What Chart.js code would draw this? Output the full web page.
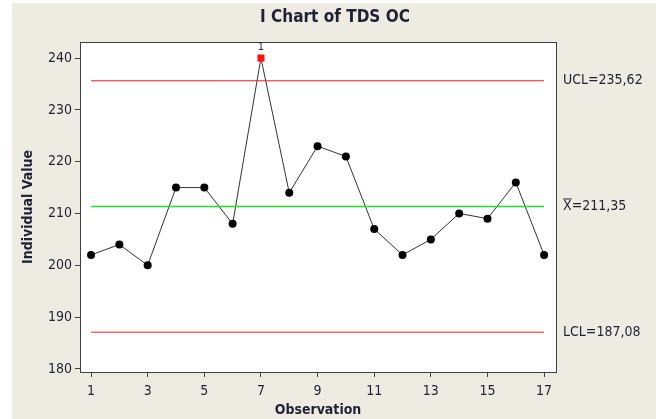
<!DOCTYPE html>
<html>
<head>
<meta charset="utf-8">
<script src="https://cdn.jsdelivr.net/npm/chart.js@4.4.0/dist/chart.umd.min.js"></script>
<style>
  html, body { margin: 0; padding: 0; background: #ffffff; }
  canvas { display: block; }
</style>
</head>
<body>
<canvas id="iChart" width="656" height="419"></canvas>
<script>
// data
const observations = [1, 2, 3, 4, 5, 6, 7, 8, 9, 10, 11, 12, 13, 14, 15, 16, 17];
const tdsValues = [202, 204, 200, 215, 215, 208, 240, 214, 223, 221, 207, 202, 205, 210, 209, 216, 202];
const outOfControl = [7];           // observations flagged with test 1
const ucl = 235.62;
const centerLine = 211.35;
const lcl = 187.08;
const xTicks = [1, 3, 5, 7, 9, 11, 13, 15, 17];
const yTicks = [180, 190, 200, 210, 220, 230, 240];

const FONT = "'DejaVu Sans Condensed', 'DejaVu Sans', sans-serif";
const TEXT = '#1f2235';

function fmt(v) {
    return v.toFixed(2).replace('.', ',');
}

const pts = observations.map((x, i) => ({ x: x, y: tdsValues[i] }));
const flagged = observations.map(x => outOfControl.includes(x));

function limitLine(v) {
    return [{ x: observations[0], y: v }, { x: observations[observations.length - 1], y: v }];
}

// beige panel, frame, right hand limit labels and the "1" flag
const decor = {
    id: 'decor',
    beforeDraw(chart) {
        const c = chart.ctx;
        c.save();
        c.fillStyle = '#eeebe2';
        c.fillRect(12, 3, chart.width - 12, chart.height - 3);
        const a = chart.chartArea;
        c.fillStyle = '#ffffff';
        c.fillRect(a.left, a.top, a.right - a.left, a.bottom - a.top);
        c.restore();
    },
    afterDraw(chart) {
        const c = chart.ctx;
        const a = chart.chartArea;
        const xs = chart.scales.x, ys = chart.scales.y;
        c.save();
        c.strokeStyle = '#404040';
        c.lineWidth = 1;
        c.strokeRect(a.left + 0.5, a.top + 0.5, a.right - a.left, a.bottom - a.top);

        // title
        c.fillStyle = TEXT;
        c.font = "bold 17px " + FONT;
        c.textAlign = 'center';
        c.textBaseline = 'middle';
        c.fillText('I Chart of TDS OC', 335, 18);

        // limit labels
        c.font = "14px " + FONT;
        c.textAlign = 'left';
        const lx = a.right + 7;
        c.fillText('UCL=' + fmt(ucl), lx, ys.getPixelForValue(ucl));
        c.fillText('LCL=' + fmt(lcl), lx, ys.getPixelForValue(lcl));
        const cy = ys.getPixelForValue(centerLine);
        c.fillText('X', lx, cy);
        const w = c.measureText('X').width;
        c.fillText('=' + fmt(centerLine), lx + w, cy);
        c.beginPath();
        c.strokeStyle = TEXT;
        c.moveTo(lx, cy - 7.5);
        c.lineTo(lx + w, cy - 7.5);
        c.stroke();

        // test number above flagged points
        c.font = "11px " + FONT;
        c.textAlign = 'center';
        c.textBaseline = 'bottom';
        outOfControl.forEach(o => {
            const v = tdsValues[observations.indexOf(o)];
            c.fillText('1', xs.getPixelForValue(o), ys.getPixelForValue(v) - 5);
        });
        c.restore();
    }
};

new Chart(document.getElementById('iChart'), {
    type: 'scatter',
    data: {
        datasets: [{
            label: 'UCL',
            data: limitLine(ucl),
            showLine: true,
            borderColor: '#ff1a1a',
            borderWidth: 1,
            pointRadius: 0
        }, {
            label: 'Mean',
            data: limitLine(centerLine),
            showLine: true,
            borderColor: '#22e022',
            borderWidth: 1.3,
            pointRadius: 0
        }, {
            label: 'LCL',
            data: limitLine(lcl),
            showLine: true,
            borderColor: '#ff1a1a',
            borderWidth: 1,
            pointRadius: 0
        }, {
            label: 'TDS OC',
            data: pts,
            showLine: true,
            borderColor: '#333333',
            borderWidth: 1,
            pointStyle: flagged.map(f => f ? 'rect' : 'circle'),
            pointRadius: flagged.map(f => f ? 5 : 4),
            pointBackgroundColor: flagged.map(f => f ? '#ff1010' : '#000000'),
            pointBorderColor: flagged.map(f => f ? '#ff1010' : '#000000'),
            pointBorderWidth: 0
        }]
    },
    options: {
        responsive: false,
        animation: false,
        layout: { padding: { left: 12, top: 42, right: 100, bottom: 0 } },
        plugins: {
            legend: { display: false },
            tooltip: { enabled: false }
        },
        scales: {
            x: {
                type: 'linear',
                min: 0.61,
                max: 17.42,
                afterBuildTicks: s => { s.ticks = xTicks.map(v => ({ value: v })); },
                afterFit: s => { s.height = 47; },
                grid: { drawOnChartArea: false, tickLength: 5, tickColor: '#404040' },
                border: { color: '#404040' },
                ticks: { color: TEXT, font: { family: FONT, size: 14 }, padding: 6, maxRotation: 0 },
                title: {
                    display: true, text: 'Observation', color: TEXT,
                    font: { family: FONT, size: 14, weight: 'bold' },
                    padding: { top: 0, bottom: 0 }
                }
            },
            y: {
                min: 179.4,
                max: 243.1,
                afterBuildTicks: s => { s.ticks = yTicks.map(v => ({ value: v })); },
                afterFit: s => { s.width = 68; },
                grid: { drawOnChartArea: false, tickLength: 5, tickColor: '#404040' },
                border: { color: '#404040' },
                ticks: { color: TEXT, font: { family: FONT, size: 14 }, padding: 3 },
                title: {
                    display: true, text: 'Individual Value', color: TEXT,
                    font: { family: FONT, size: 14, weight: 'bold' },
                    padding: { top: 8, bottom: 0 }
                }
            }
        }
    },
    plugins: [decor]
});
</script>
</body>
</html>
